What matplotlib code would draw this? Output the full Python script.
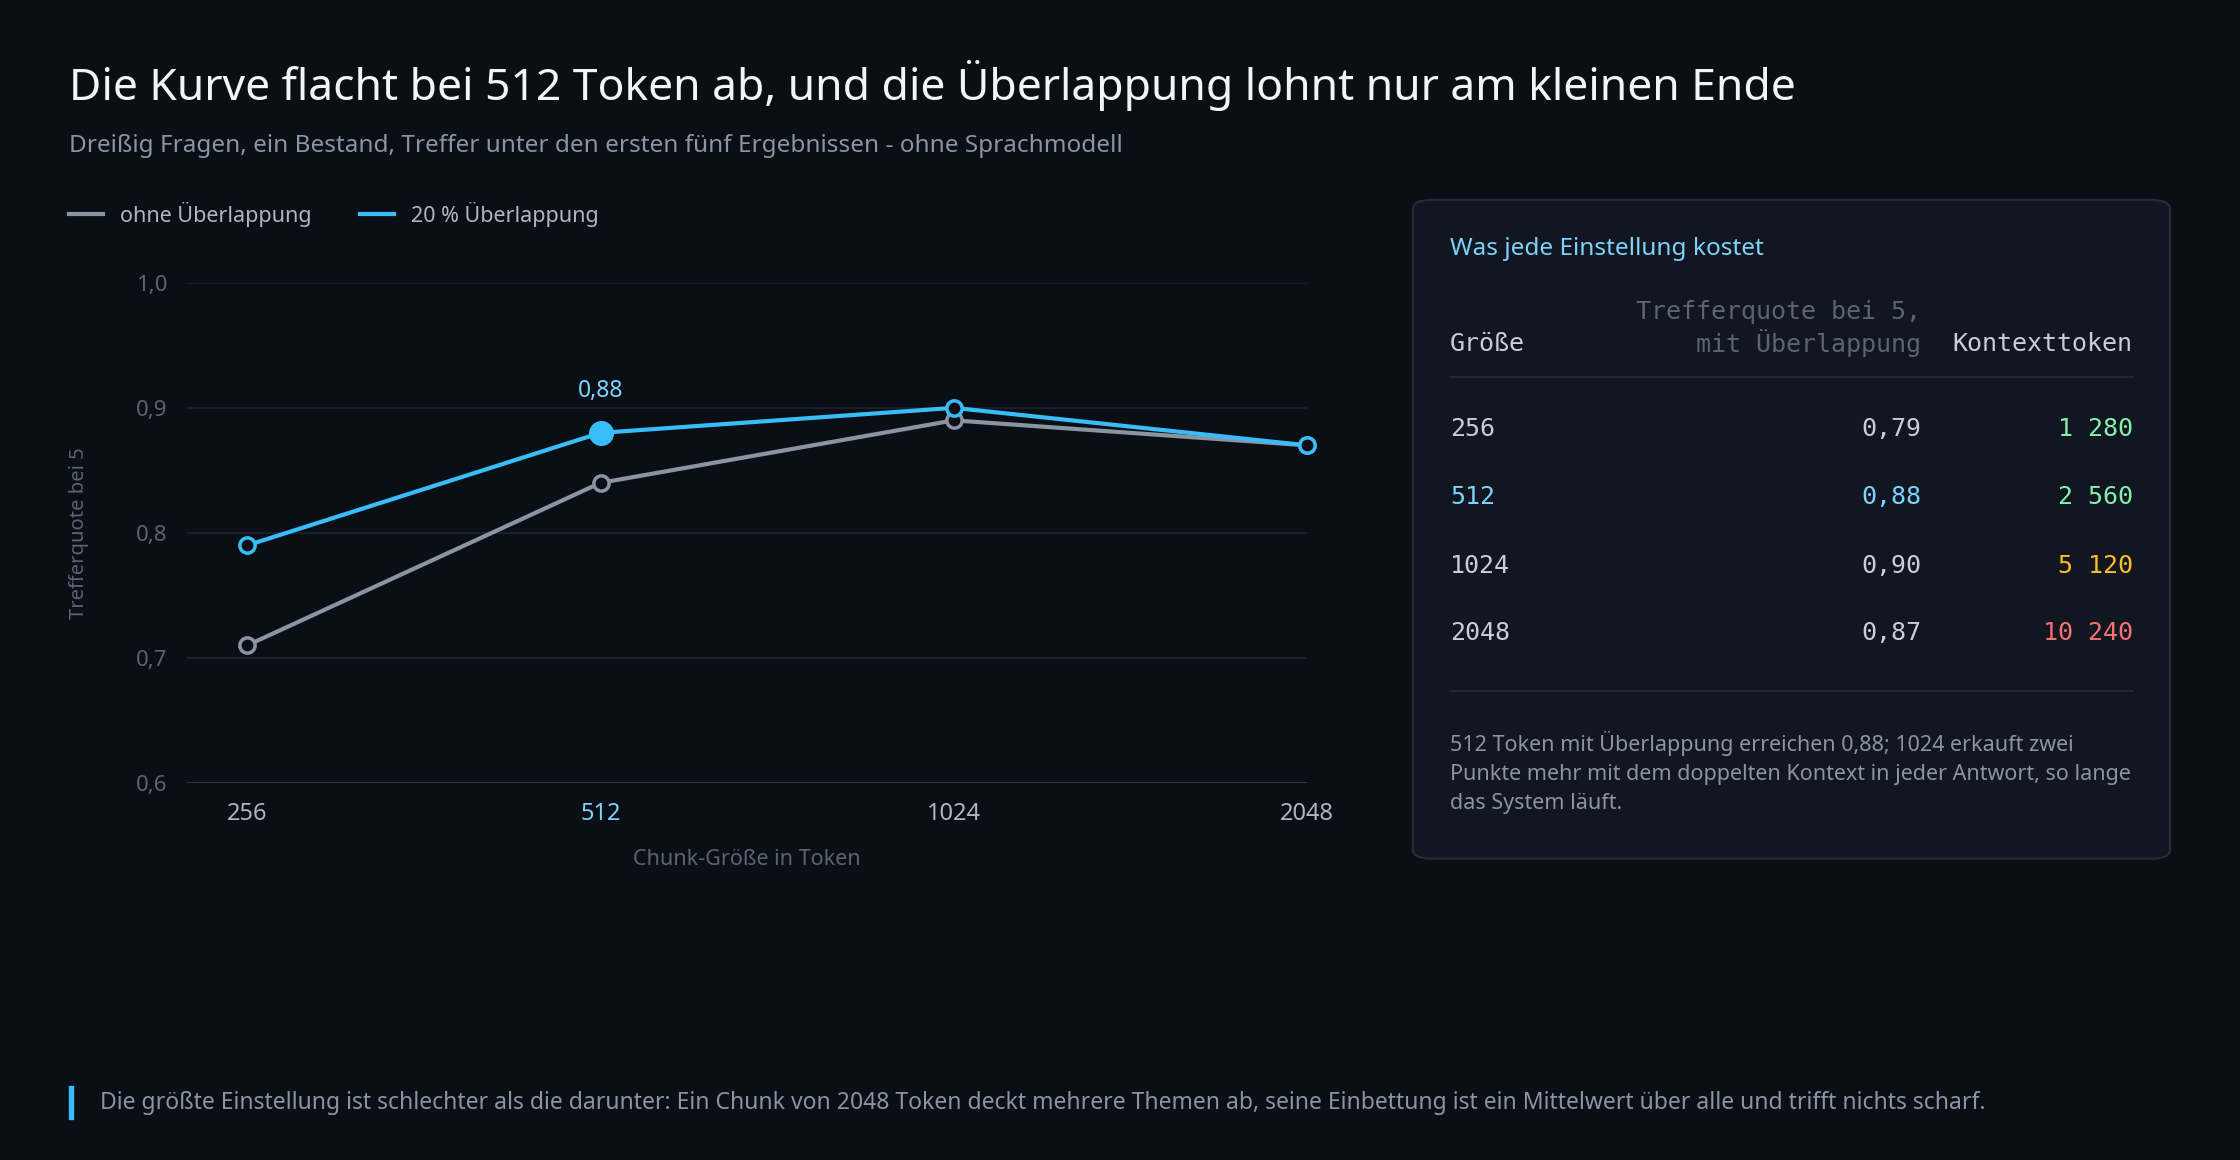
import matplotlib
matplotlib.use("Agg")
import matplotlib.pyplot as plt
from matplotlib.patches import FancyBboxPatch, Rectangle
from matplotlib.lines import Line2D

sizes = ["256", "512", "1024", "2048"]
no_overlap = [0.71, 0.84, 0.89, 0.87]
overlap20 = [0.79, 0.88, 0.90, 0.87]
yticks = [0.6, 0.7, 0.8, 0.9, 1.0]
table_recall = ["0,79", "0,88", "0,90", "0,87"]
table_context = ["1 280", "2 560", "5 120", "10 240"]
context_colors = ["#86efac", "#86efac", "#fbbf24", "#f87171"]

BG = "#0a0e15"
W, H = 1568, 812
def fx(x): return x / W
def fy(y): return 1 - y / H

plt.rcParams['font.family'] = ['Noto Sans', 'DejaVu Sans']
fig = plt.figure(figsize=(22.4, 11.6), dpi=100, facecolor=BG)

fig.text(fx(48), fy(60), "Die Kurve flacht bei 512 Token ab, und die Überlappung lohnt nur am kleinen Ende",
         color="#f1f5f9", fontsize=32, fontweight="bold", va="center")
fig.text(fx(48), fy(102), "Dreißig Fragen, ein Bestand, Treffer unter den ersten fünf Ergebnissen - ohne Sprachmodell",
         color="#8b94a3", fontsize=17.5, va="center")

# legend
for x0, col, lab in [(48, "#8b94a3", "ohne Überlappung"), (252, "#38bdf8", "20 % Überlappung")]:
    fig.add_artist(Line2D([fx(x0), fx(x0 + 24)], [fy(150)] * 2, color=col, lw=3))
    fig.text(fx(x0 + 36), fy(150), lab, color="#aeb6c2", fontsize=15.5, va="center")

ax = fig.add_axes([fx(131), fy(548), fx(915) - fx(131), fy(198) - fy(548)])
ax.set_facecolor(BG)
x = list(range(len(sizes)))
ax.set_xlim(-0.17, 3.0)
ax.set_ylim(0.6, 1.0)
for t in yticks:
    ax.axhline(t, color="#3a414d" if t == 0.6 else "#1e2430", lw=1.2, zorder=0)
ax.plot(x, no_overlap, color="#8b94a3", lw=3, marker="o", ms=11, mfc=BG, mec="#8b94a3", mew=2.5, zorder=3, clip_on=False)
ax.plot(x, overlap20, color="#38bdf8", lw=3, marker="o", ms=11, mfc=BG, mec="#38bdf8", mew=2.5, zorder=4, clip_on=False)
ax.plot([1], [overlap20[1]], marker="o", ms=17, color="#38bdf8", zorder=5)
ax.annotate("0,88", (1, overlap20[1]), xytext=(0, 26), textcoords="offset points",
            ha="center", color="#7dd3fc", fontsize=16.5)
ax.set_xticks(x)
ax.set_xticklabels(sizes, fontsize=17)
for lbl, c in zip(ax.get_xticklabels(), ["#aeb6c2", "#7dd3fc", "#aeb6c2", "#aeb6c2"]):
    lbl.set_color(c)
ax.set_yticks(yticks)
ax.set_yticklabels([f"{t:.1f}".replace(".", ",") for t in yticks], fontsize=16, color="#5b6472")
ax.tick_params(length=0, pad=14)
for s in ax.spines.values():
    s.set_visible(False)
ax.set_xlabel("Chunk-Größe in Token", color="#5b6472", fontsize=15.5, labelpad=16)
ax.set_ylabel("Trefferquote bei 5", color="#5b6472", fontsize=14.5, labelpad=34)

# panel
fig.add_artist(FancyBboxPatch((fx(989), fy(601)), fx(1519) - fx(989), fy(140) - fy(601),
                              boxstyle="round,pad=0,rounding_size=0.008", fc="#111620", ec="#262c37", lw=1.5,
                              transform=fig.transFigure))
fig.text(fx(1015), fy(174), "Was jede Einstellung kostet", color="#7dd3fc", fontsize=17.5, fontweight="bold", va="center")
mono = "DejaVu Sans Mono"
fig.text(fx(1015), fy(241), "Größe", color="#c8ced8", fontsize=18, family=mono, va="center")
fig.text(fx(1345), fy(230), "Trefferquote bei 5,\nmit Überlappung", color="#5b6472", fontsize=18, family=mono,
         va="center", ha="right", linespacing=1.2)
fig.text(fx(1493), fy(241), "Kontexttoken", color="#c8ced8", fontsize=18, family=mono, va="center", ha="right")
fig.add_artist(Line2D([fx(1015), fx(1493)], [fy(264)] * 2, color="#262c37", lw=1.2))
ys = [300, 348, 396, 443]
for i, yy in enumerate(ys):
    c = "#7dd3fc" if i == 1 else "#c8ced8"
    fig.text(fx(1015), fy(yy), sizes[i], color=c, fontsize=18, family=mono, va="center")
    fig.text(fx(1345), fy(yy), table_recall[i], color=c, fontsize=18, family=mono, va="center", ha="right")
    fig.text(fx(1493), fy(yy), table_context[i], color=context_colors[i], fontsize=18, family=mono, va="center", ha="right")
fig.add_artist(Line2D([fx(1015), fx(1493)], [fy(484)] * 2, color="#262c37", lw=1.2))
fig.text(fx(1015), fy(541), "512 Token mit Überlappung erreichen 0,88; 1024 erkauft zwei\nPunkte mehr mit dem doppelten Kontext in jeder Antwort, so lange\ndas System läuft.",
         color="#8b94a3", fontsize=15.5, va="center", linespacing=1.5)

# footer
fig.add_artist(Rectangle((fx(48), fy(783)), fx(3), fy(760) - fy(783), color="#38bdf8", transform=fig.transFigure))
fig.text(fx(70), fy(772), "Die größte Einstellung ist schlechter als die darunter: Ein Chunk von 2048 Token deckt mehrere Themen ab, seine Einbettung ist ein Mittelwert über alle und trifft nichts scharf.",
         color="#8b94a3", fontsize=16.5, va="center")

fig.savefig("out.png", dpi=100, facecolor=BG)
